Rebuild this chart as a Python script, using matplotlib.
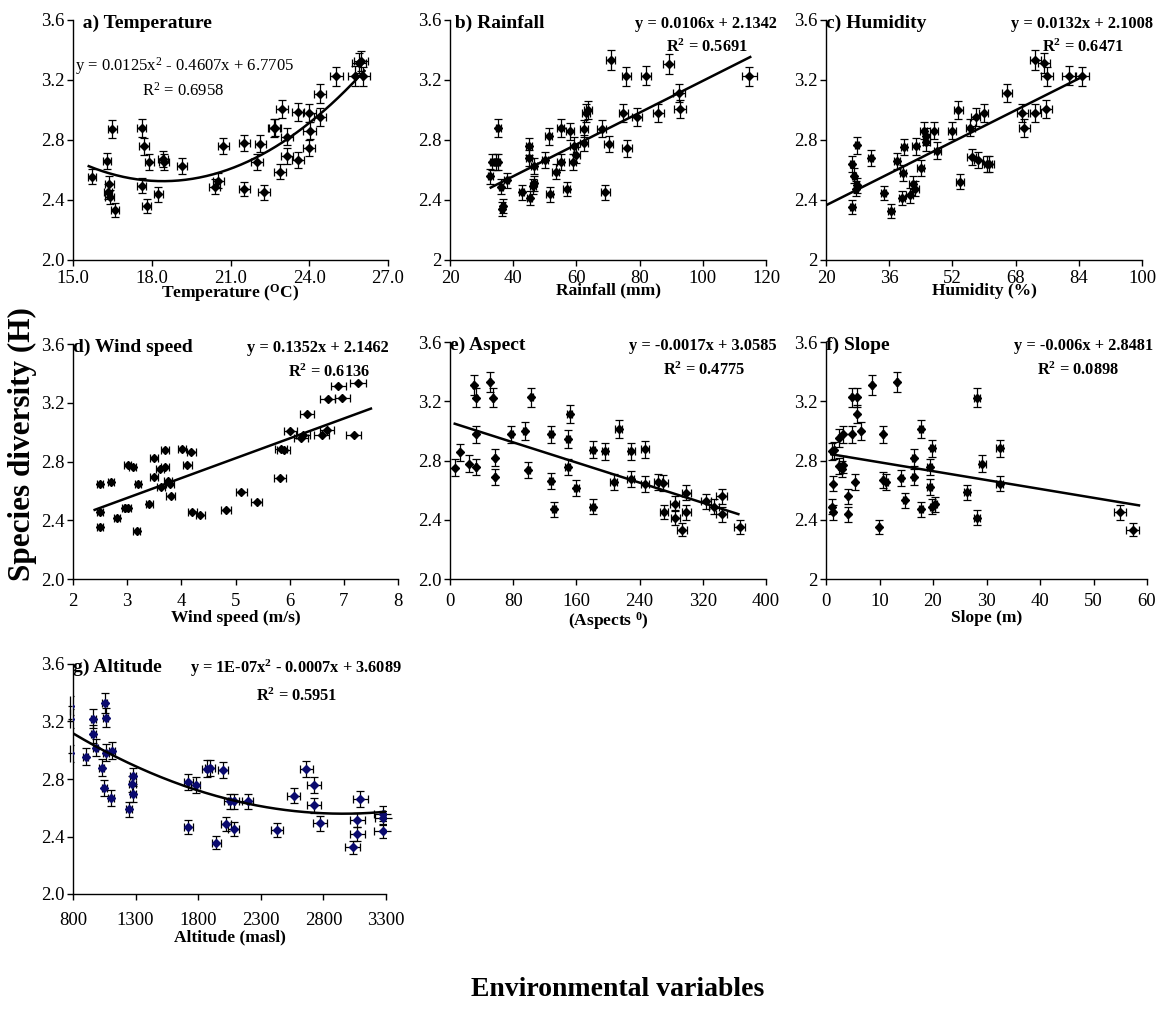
import numpy as np
import matplotlib.pyplot as plt
from matplotlib.ticker import FuncFormatter

plt.rcParams['font.family'] = ['Liberation Serif', 'DejaVu Serif']
plt.rcParams['mathtext.fontset'] = 'custom'
plt.rcParams['mathtext.rm'] = 'Liberation Serif'
plt.rcParams['mathtext.it'] = 'Liberation Serif'
plt.rcParams['mathtext.bf'] = 'Liberation Serif:bold'

# species diversity (H) against each environmental variable
temp_x = [15.71, 16.30, 16.50, 16.38, 16.34, 16.40, 16.60, 17.62, 17.70, 17.91, 17.62,
          17.81, 18.25, 18.42, 18.48, 19.14, 20.40, 20.53, 20.72, 21.52, 21.52, 22.14,
          22.00, 22.27, 22.70, 22.65, 22.97, 22.90, 23.15, 23.16, 23.57, 23.56, 24.00,
          24.01, 23.99, 24.41, 24.41, 25.03, 25.75, 25.90, 25.97, 26.06]
temp_h = [2.556, 2.660, 2.873, 2.507, 2.456, 2.420, 2.331, 2.880, 2.758, 2.653, 2.496,
          2.358, 2.438, 2.673, 2.653, 2.627, 2.487, 2.529, 2.760, 2.780, 2.473, 2.776,
          2.651, 2.451, 2.882, 2.880, 3.004, 2.589, 2.822, 2.696, 2.989, 2.667, 2.982,
          2.862, 2.747, 3.109, 2.953, 3.224, 3.227, 3.313, 3.324, 3.224]

rain_x = [32.8, 33.4, 34.6, 35.3, 35.1, 36.1, 36.5, 36.8, 38.0, 42.7, 45.0, 44.9, 45.2,
          46.2, 46.7, 46.6, 50.1, 51.2, 51.5, 53.5, 55.1, 55.1, 58.0, 58.8, 59.2, 60.0,
          56.9, 62.4, 62.5, 63.0, 63.7, 68.0, 70.2, 69.1, 70.8, 74.9, 75.8, 76.1, 79.3,
          82.1, 85.9, 89.2, 92.4, 92.7, 114.7]
rain_h = [2.558, 2.653, 2.653, 2.880, 2.653, 2.487, 2.342, 2.360, 2.531, 2.451, 2.758,
          2.680, 2.413, 2.491, 2.513, 2.629, 2.667, 2.824, 2.438, 2.589, 2.653, 2.880,
          2.858, 2.653, 2.762, 2.700, 2.473, 2.780, 2.876, 2.980, 3.002, 2.876, 2.773,
          2.451, 3.336, 2.980, 3.224, 2.744, 2.951, 3.229, 2.980, 3.309, 3.113, 3.009,
          3.224]

hum_x = [26.6, 27.1, 26.7, 27.8, 27.6, 27.9, 31.3, 34.6, 36.4, 37.9, 39.5, 39.8, 39.3,
         41.2, 41.9, 42.6, 42.7, 44.0, 44.8, 45.4, 45.4, 47.4, 48.2, 51.9, 53.5, 53.9,
         56.5, 56.9, 57.9, 58.6, 59.9, 60.7, 61.2, 65.8, 69.7, 70.2, 73.0, 73.0, 75.1,
         75.9, 75.7, 81.4, 84.9]
hum_h = [2.642, 2.562, 2.353, 2.764, 2.476, 2.500, 2.680, 2.447, 2.324, 2.658, 2.580,
         2.753, 2.413, 2.431, 2.509, 2.476, 2.758, 2.613, 2.862, 2.824, 2.784, 2.862,
         2.729, 2.862, 3.002, 2.522, 2.882, 2.687, 2.953, 2.664, 2.980, 2.642, 2.642,
         3.113, 2.980, 2.880, 2.980, 3.331, 3.311, 3.224, 3.009, 3.229, 3.224]

wind_x = [2.50, 2.50, 2.50, 2.70, 2.81, 3.01, 3.10, 3.20, 2.96, 3.01, 3.18, 3.41, 3.50,
          3.50, 3.61, 3.70, 3.69, 3.62, 3.75, 3.79, 3.80, 4.01, 4.11, 4.18, 4.20, 4.35,
          4.82, 5.11, 5.39, 5.82, 5.84, 5.89, 6.01, 6.21, 6.25, 6.32, 6.70, 6.59, 6.69,
          6.97, 6.90, 7.18, 7.26]
wind_h = [2.649, 2.454, 2.356, 2.663, 2.415, 2.774, 2.760, 2.649, 2.483, 2.483, 2.329,
          2.510, 2.824, 2.694, 2.749, 2.760, 2.876, 2.624, 2.669, 2.649, 2.563, 2.883,
          2.778, 2.862, 2.454, 2.438, 2.472, 2.590, 2.526, 2.688, 2.883, 2.876, 3.005,
          2.960, 2.983, 3.123, 3.228, 2.983, 3.017, 3.235, 3.316, 2.983, 3.337]

asp_x = [6.7, 12.2, 24.0, 30.3, 33.3, 33.3, 32.9, 51.0, 54.0, 56.5, 56.5, 77.6, 94.8,
         99.0, 102.8, 127.7, 128.1, 131.5, 149.2, 151.7, 148.8, 159.7, 180.4, 180.4,
         196.4, 207.0, 213.3, 228.9, 229.3, 246.6, 246.6, 263.4, 270.2, 271.0, 284.5,
         284.9, 293.8, 299.3, 299.3, 324.1, 334.2, 343.9, 343.9, 366.7]
asp_h = [2.752, 2.857, 2.779, 3.310, 3.223, 2.976, 2.756, 3.331, 3.223, 2.819, 2.691,
         2.976, 2.999, 2.736, 3.227, 2.976, 2.660, 2.471, 2.945, 3.113, 2.754, 2.615,
         2.871, 2.487, 2.862, 2.653, 3.012, 2.675, 2.862, 2.876, 2.642, 2.653, 2.646,
         2.451, 2.507, 2.415, 2.334, 2.583, 2.449, 2.525, 2.487, 2.558, 2.436, 2.352]

slope_x = [1.10, 1.56, 1.30, 1.18, 1.30, 2.36, 3.17, 2.36, 3.05, 3.24, 4.10, 4.10, 4.85,
           5.72, 5.72, 4.92, 5.48, 6.47, 8.65, 9.90, 10.6, 10.6, 11.27, 13.26, 14.07,
           14.69, 16.37, 16.37, 17.8, 17.8, 19.35, 19.35, 19.9, 19.9, 20.3, 26.3, 28.25,
           28.25, 29.25, 32.5, 32.5, 54.9, 57.3]
slope_h = [2.864, 2.868, 2.644, 2.487, 2.449, 2.951, 2.976, 2.763, 2.743, 2.772, 2.559,
           2.436, 3.227, 3.227, 3.115, 2.976, 2.657, 3.001, 3.310, 2.352, 2.976, 2.666,
           2.653, 3.331, 2.684, 2.530, 2.819, 2.689, 3.014, 2.471, 2.756, 2.621, 2.882,
           2.487, 2.505, 2.586, 3.223, 2.415, 2.779, 2.882, 2.644, 2.449, 2.334]

alt_x = [778, 778, 778, 901, 963, 963, 981, 1029, 1051, 1053, 1061, 1064, 1104, 1112,
         1245, 1274, 1280, 1277, 1722, 1722, 1781, 1869, 1895, 1997, 1946, 2023, 2050,
         2082, 2082, 2194, 2426, 2562, 2663, 2727, 2727, 2775, 3033, 3071, 3071, 3095,
         3273, 3279, 3273]
alt_h = [3.310, 3.220, 2.980, 2.954, 3.116, 3.220, 3.017, 2.880, 2.739, 3.329, 3.227,
         2.982, 2.669, 2.996, 2.588, 2.764, 2.820, 2.695, 2.468, 2.780, 2.760, 2.873,
         2.878, 2.861, 2.357, 2.486, 2.646, 2.646, 2.449, 2.646, 2.445, 2.685, 2.868,
         2.759, 2.616, 2.491, 2.324, 2.514, 2.417, 2.660, 2.558, 2.528, 2.440]

# trendline coefficients (highest power first)
fit_temp = [0.0125, -0.4607, 6.7705]
fit_rain = [0.0106, 2.1342]
fit_hum = [0.0132, 2.1008]
fit_wind = [0.1352, 2.1462]
fit_asp = [-0.0017, 3.0585]
fit_slope = [-0.006, 2.8481]
fit_alt = [1.2e-07, -0.00071, 3.6089]

W, H = 1167, 1018
fig = plt.figure(figsize=(W / 100, H / 100), dpi=100)


def px_axes(x0, x1, y0, y1):
    # axes box given in pixel coordinates from the top-left corner
    return fig.add_axes([x0 / W, 1 - y1 / H, (x1 - x0) / W, (y1 - y0) / H])


def fmt_g(v, pos):
    return '{:g}'.format(v)


def fmt_1(v, pos):
    return '{:.1f}'.format(v)


def panel(ax, x, h, xerr_pct, yerr_pct, coef, fit_range, xlim, xticks,
          xlabel, title, xfmt=fmt_g, yfmt=fmt_1, color='black', lab_gap=0, xl_pad=-3):
    x = np.asarray(x, float)
    h = np.asarray(h, float)
    yerr = h * yerr_pct if yerr_pct else None
    eb = ax.errorbar(x, h, xerr=x * xerr_pct, yerr=yerr, fmt='D', ms=4.5,
                     mfc=color, mec=color, ecolor='black', elinewidth=0.9,
                     capsize=3, capthick=0.9, zorder=3)
    xs = np.linspace(fit_range[0], fit_range[1], 200)
    ax.plot(xs, np.polyval(coef, xs), color='black', lw=1.8, zorder=4)
    ax.set_xlim(xlim)
    ax.set_ylim(2.0, 3.6)
    ax.set_xticks(xticks)
    ax.set_yticks([2.0, 2.4, 2.8, 3.2, 3.6])
    ax.xaxis.set_major_formatter(FuncFormatter(xfmt))
    ax.yaxis.set_major_formatter(FuncFormatter(yfmt))
    for s in ['top', 'right']:
        ax.spines[s].set_visible(False)
    for s in ['left', 'bottom']:
        ax.spines[s].set_linewidth(1.0)
    ax.tick_params(direction='out', length=4, width=1, labelsize=13.5)
    ax.tick_params(axis='x', pad=3 + lab_gap)
    ax.tick_params(axis='y', pad=2)
    ax.set_xlabel(xlabel, fontsize=12.5, fontweight='bold', labelpad=xl_pad)
    ax.text(0.0, 0.985, title, transform=ax.transAxes, fontsize=14,
            fontweight='bold', va='center', ha='left')
    return eb


# a) temperature
ax = px_axes(73, 388, 20, 260)
panel(ax, temp_x, temp_h, 0.01, 0.02, fit_temp, (15.6, 26.1), (15, 27),
      [15, 18, 21, 24, 27], 'Temperature ($^{\\mathbf{O}}$C)', '  a) Temperature', xfmt=fmt_1)
ax.text(0.006, 0.81, 'y = 0.0125x$^{2}$ - 0.4607x + 6.7705', transform=ax.transAxes,
        fontsize=12, va='center', ha='left')
ax.text(0.35, 0.705, 'R$^{2}$ = 0.6958', transform=ax.transAxes, fontsize=12,
        va='center', ha='center')

# b) rainfall
ax = px_axes(450, 766, 20, 260)
panel(ax, rain_x, rain_h, 0.02, 0.02, fit_rain, (32.9, 115), (20, 120),
      [20, 40, 60, 80, 100, 120], 'Rainfall (mm)', ' b) Rainfall', yfmt=fmt_g)
ax.text(1.035, 0.985, 'y = 0.0106x + 2.1342', transform=ax.transAxes, fontsize=11.8,
        fontweight='bold', va='center', ha='right')
ax.text(0.813, 0.885, 'R$^{\\mathbf{2}}$ = 0.5691', transform=ax.transAxes, fontsize=11.8,
        fontweight='bold', va='center', ha='center')

# c) humidity
ax = px_axes(826, 1142, 20, 260)
panel(ax, hum_x, hum_h, 0.02, 0.02, fit_hum, (20, 85), (20, 100),
      [20, 36, 52, 68, 84, 100], 'Humidity (%)', 'c) Humidity', yfmt=fmt_g)
ax.text(1.035, 0.985, 'y = 0.0132x + 2.1008', transform=ax.transAxes, fontsize=11.8,
        fontweight='bold', va='center', ha='right')
ax.text(0.813, 0.885, 'R$^{\\mathbf{2}}$ = 0.6471', transform=ax.transAxes, fontsize=11.8,
        fontweight='bold', va='center', ha='center')

# d) wind speed
ax = px_axes(73, 398, 344, 579)
panel(ax, wind_x, wind_h, 0.02, 0, fit_wind, (2.4, 7.5), (2, 8),
      [2, 3, 4, 5, 6, 7, 8], 'Wind speed (m/s)', 'd) Wind speed', lab_gap=3, xl_pad=0)
ax.text(0.972, 0.985, 'y = 0.1352x + 2.1462', transform=ax.transAxes, fontsize=11.8,
        fontweight='bold', va='center', ha='right')
ax.text(0.788, 0.88, 'R$^{\\mathbf{2}}$ = 0.6136', transform=ax.transAxes, fontsize=11.8,
        fontweight='bold', va='center', ha='center')

# e) aspect
ax = px_axes(450, 766, 342, 579)
panel(ax, asp_x, asp_h, 0.02, 0.02, fit_asp, (6, 365), (0, 400),
      [0, 80, 160, 240, 320, 400], '(Aspects $^{\\mathbf{0}}$)', 'e) Aspect', lab_gap=3, xl_pad=0)
ax.text(1.035, 0.985, 'y = -0.0017x + 3.0585', transform=ax.transAxes, fontsize=11.8,
        fontweight='bold', va='center', ha='right')
ax.text(0.805, 0.88, 'R$^{\\mathbf{2}}$ = 0.4775', transform=ax.transAxes, fontsize=11.8,
        fontweight='bold', va='center', ha='center')

# f) slope
ax = px_axes(826, 1147, 342, 579)
panel(ax, slope_x, slope_h, 0.02, 0.02, fit_slope, (1, 58.5), (0, 60),
      [0, 10, 20, 30, 40, 50, 60], 'Slope (m)', 'f) Slope', yfmt=fmt_g, lab_gap=3, xl_pad=0)
ax.text(1.019, 0.985, 'y = -0.006x + 2.8481', transform=ax.transAxes, fontsize=11.8,
        fontweight='bold', va='center', ha='right')
ax.text(0.786, 0.88, 'R$^{\\mathbf{2}}$ = 0.0898', transform=ax.transAxes, fontsize=11.8,
        fontweight='bold', va='center', ha='center')

# g) altitude
ax = px_axes(73, 386, 664, 894)
eb = panel(ax, alt_x, alt_h, 0.02, 0.02, fit_alt, (800, 3300), (800, 3300),
           [800, 1300, 1800, 2300, 2800, 3300], 'Altitude (masl)', 'g) Altitude',
           color='#0a0a6e', lab_gap=6, xl_pad=0)
for c in eb[2]:
    c.set_clip_on(False)
ax.text(1.052, 0.98, 'y = 1E-07x$^{\\mathbf{2}}$ - 0.0007x + 3.6089', transform=ax.transAxes,
        fontsize=11.8, fontweight='bold', va='center', ha='right')
ax.text(0.716, 0.86, 'R$^{\\mathbf{2}}$ = 0.5951', transform=ax.transAxes, fontsize=11.8,
        fontweight='bold', va='center', ha='center')

fig.text(22 / W, 1 - 444 / H, 'Species diversity (H)', rotation=90, fontsize=22.5,
         fontweight='bold', ha='center', va='center')
fig.text(618 / W, 1 - 990 / H, 'Environmental variables', fontsize=20,
         fontweight='bold', ha='center', va='center')

plt.savefig('out.png', dpi=100)
